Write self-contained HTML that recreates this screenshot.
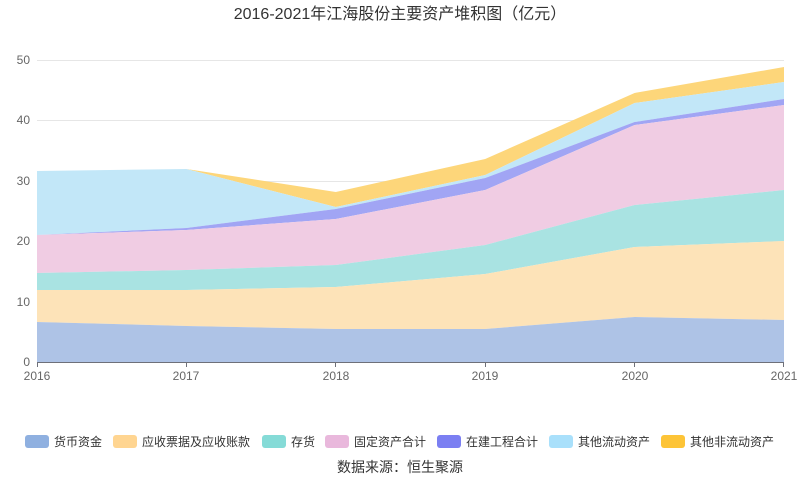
<!DOCTYPE html>
<html><head><meta charset="utf-8"><style>
body{margin:0;background:#fff;}
svg{display:block;font-family:"Liberation Sans","Noto Sans CJK SC",sans-serif;}
</style></head><body>
<svg width="800" height="501" viewBox="0 0 800 501">
<text x="400" y="19" text-anchor="middle" font-size="16" fill="#333">2016-2021年江海股份主要资产堆积图（亿元）</text>
<g stroke="#e6e6e6" stroke-width="1">
<line x1="37" x2="784" y1="60.5" y2="60.5"/><line x1="37" x2="784" y1="120.5" y2="120.5"/><line x1="37" x2="784" y1="181.5" y2="181.5"/><line x1="37" x2="784" y1="241.5" y2="241.5"/><line x1="37" x2="784" y1="301.5" y2="301.5"/>
</g>
<g font-size="12" fill="#666" text-anchor="end">
<text x="30" y="366">0</text><text x="30" y="306">10</text><text x="30" y="245">20</text><text x="30" y="185">30</text><text x="30" y="124">40</text><text x="30" y="64">50</text>
</g>
<g>
<polygon fill="#fdd67a" points="37,171 186.4,169 335.8,192 485.2,159 634.6,93 784,67 784,82 634.6,103 485.2,175 335.8,207 186.4,169 37,171"/>
<polygon fill="#c2e7f8" points="37,171 186.4,169 335.8,207 485.2,175 634.6,103 784,82 784,99 634.6,122 485.2,178 335.8,209 186.4,228 37,235"/>
<polygon fill="#a1a5f4" points="37,235 186.4,228 335.8,209 485.2,178 634.6,122 784,99 784,105 634.6,125 485.2,190 335.8,219 186.4,230 37,235"/>
<polygon fill="#f0cce3" points="37,235 186.4,230 335.8,219 485.2,190 634.6,125 784,105 784,190 634.6,205 485.2,245 335.8,265 186.4,270 37,273"/>
<polygon fill="#a9e3e2" points="37,273 186.4,270 335.8,265 485.2,245 634.6,205 784,190 784,241 634.6,247 485.2,274 335.8,287 186.4,290 37,290"/>
<polygon fill="#fde3b8" points="37,290 186.4,290 335.8,287 485.2,274 634.6,247 784,241 784,320 634.6,317 485.2,329 335.8,329 186.4,326 37,322"/>
<polygon fill="#aec3e6" points="37,322 186.4,326 335.8,329 485.2,329 634.6,317 784,320 784,362 37,362"/>
</g>
<line x1="37" x2="784" y1="362.5" y2="362.5" stroke="#6e7079"/>
<g stroke="#6e7079"><line x1="37.5" x2="37.5" y1="362" y2="367"/><line x1="186.5" x2="186.5" y1="362" y2="367"/><line x1="335.5" x2="335.5" y1="362" y2="367"/><line x1="485.5" x2="485.5" y1="362" y2="367"/><line x1="634.5" x2="634.5" y1="362" y2="367"/><line x1="783.5" x2="783.5" y1="362" y2="367"/></g>
<g font-size="12" fill="#666" text-anchor="middle">
<text x="37" y="380">2016</text><text x="186" y="380">2017</text><text x="336" y="380">2018</text><text x="485" y="380">2019</text><text x="635" y="380">2020</text><text x="784" y="380">2021</text>
</g>
<g font-size="12" fill="#333">
<rect x="25" y="435" width="24" height="13" rx="3" fill="#8fb0e0"/><text x="54" y="446">货币资金</text>
<rect x="113" y="435" width="24" height="13" rx="3" fill="#ffd591"/><text x="142" y="446">应收票据及应收账款</text>
<rect x="262" y="435" width="24" height="13" rx="3" fill="#85dbd7"/><text x="291" y="446">存货</text>
<rect x="325" y="435" width="24" height="13" rx="3" fill="#e9b8dc"/><text x="354" y="446">固定资产合计</text>
<rect x="437" y="435" width="24" height="13" rx="3" fill="#7b7ff2"/><text x="466" y="446">在建工程合计</text>
<rect x="549" y="435" width="24" height="13" rx="3" fill="#a9e0fb"/><text x="578" y="446">其他流动资产</text>
<rect x="661" y="435" width="24" height="13" rx="3" fill="#fdc437"/><text x="690" y="446">其他非流动资产</text>
</g>
<text x="400" y="472" text-anchor="middle" font-size="14" fill="#333">数据来源：恒生聚源</text>
</svg>
</body></html>
